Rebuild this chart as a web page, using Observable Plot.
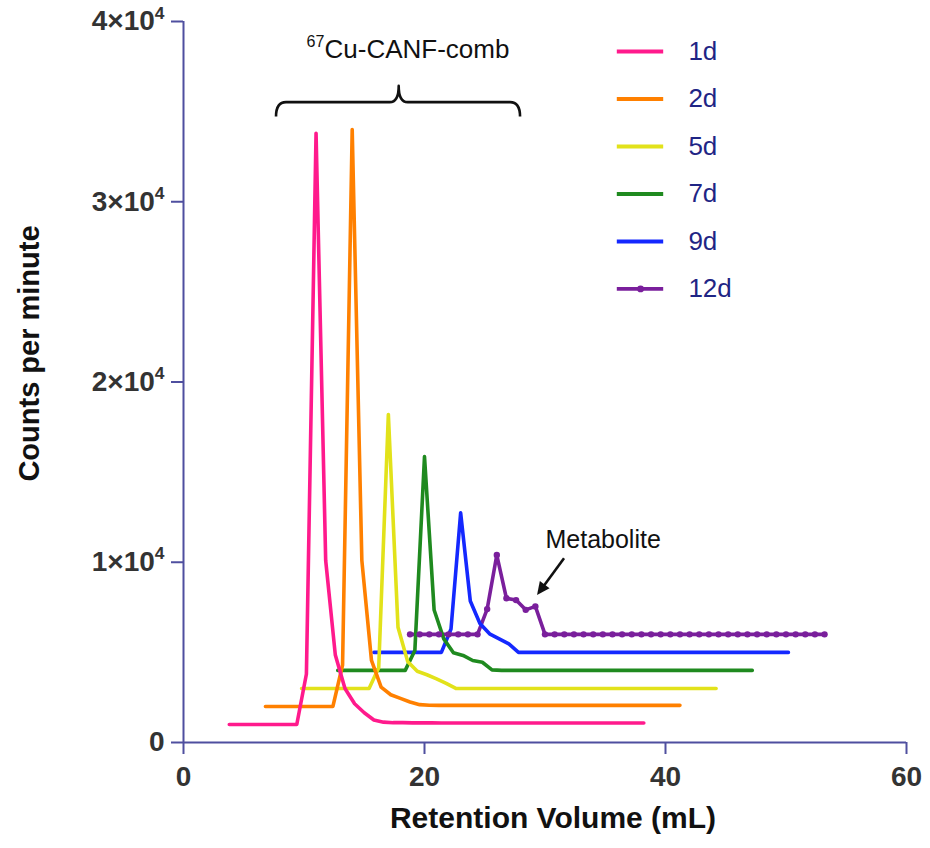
<!DOCTYPE html>
<html><head><meta charset="utf-8">
<script src="https://cdn.jsdelivr.net/npm/d3@7"></script>
<script src="https://cdn.jsdelivr.net/npm/@observablehq/plot@0.6"></script>
<style>body{margin:0;background:#fff}#chart{width:930px;height:848px}</style>
</head><body><div id="chart"></div>
<script>
// ---- data ----
const seriesNames = ["1d", "2d", "5d", "7d", "9d", "12d"];
const seriesColors = ["#ff1a8c", "#ff8000", "#e2e21a", "#1f8a1f", "#1428ff", "#7a1f9c"];
// fraction retention volumes (mL)
const volumes = [0.8,1.6,2.4,3.2,4.0,4.8,5.6,6.4,7.2,8.0,
  8.8,9.6,10.4,11.2,12.0,12.8,13.6,14.4,15.2,16.0,
  16.8,17.6,18.4,19.2,20.0,20.8,21.6,22.4,23.2,24.0,
  24.8,25.6,26.4,27.2,28.0,28.8,29.6,30.4,31.2,32.0,
  32.8,33.6,34.4,35.2];
const counts1d = [0,0,0,0,0,0,0,0,2800,32800,
  9100,3850,2000,1150,650,250,130,100,100,90,
  90,90,80,80,80,80,80,80,80,80,
  80,80,80,80,80,80,80,80,80,80,
  80,80,80,80];
const counts2d = [0,0,0,0,0,0,0,0,2300,32000,
  8100,2550,1070,650,450,250,100,70,60,60,
  60,60,60,60,60,60,60,60,60,60,
  60,60,60,60,60,60,60,60,60,60,
  60,60,60,60];
const counts5d = [0,0,0,0,0,0,0,0,1150,15200,
  3400,1500,950,760,530,280,0,0,0,0,
  0,0,0,0,0,0,0,0,0,0,
  0,0,0,0,0,0,0,0,0,0,
  0,0,0,0];
const counts7d = [0,0,0,0,0,0,0,0,1100,11860,
  3350,1750,980,830,550,450,30,0,0,0,
  0,0,0,0,0,0,0,0,0,0,
  0,0,0,0,0,0,0,0,0,0,
  0,0,0,0];
const counts9d = [0,0,0,0,0,0,0,0,1300,7740,
  2850,1600,1030,750,470,0,0,0,0,0,
  0,0,0,0,0,0,0,0,0,0,
  0,0,0,0,0,0,0,0,0,0,
  0,0,0,0];
const counts12d = [0,0,0,0,0,0,0,0,1400,4400,
  2000,1900,1360,1550,0,0,0,0,0,0,
  0,0,0,0,0,0,0,0,0,0,
  0,0,0,0,0,0,0,0,0,0,
  0,0,0,0];
const allCounts = [counts1d, counts2d, counts5d, counts7d, counts9d, counts12d];
// waterfall display offsets
const xOffsets = [3, 6, 9, 12, 15, 18];
const yOffsets = [1000, 2000, 3000, 4000, 5000, 6000];
const xTicks = [0, 20, 40, 60];
const yTicks = [0, 10000, 20000, 30000, 40000];
const yTickLabels = ["0", "1×10^{4}", "2×10^{4}", "3×10^{4}", "4×10^{4}"];
const xLabel = "Retention Volume (mL)";
const yLabel = "Counts per minute";
const peakLabel = "^{67}Cu-CANF-comb";
const metaboliteLabel = "Metabolite";

// ---- build ----
const axisColor = "#4f4f9f";
const tickTextColor = "#333";
const legendTextColor = "#1f2585";
const FONT = "Liberation Sans, Arial, Helvetica, sans-serif";

function rowsFor(i) {
  return volumes.map((v, k) => ({series: seriesNames[i], x: v + xOffsets[i], y: allCounts[i][k] + yOffsets[i]}));
}
const legendRows = seriesNames.map((s, i) => ({name: s, i, y: 38336 - 2635 * i}));

const marks = [
  Plot.ruleY([0], {stroke: axisColor, strokeWidth: 2}),
  Plot.ruleX([0], {stroke: axisColor, strokeWidth: 2}),
  Plot.axisX({ticks: xTicks, tickSize: 12, tickPadding: 12, stroke: axisColor, strokeWidth: 2,
    fill: tickTextColor, fontSize: 28, fontWeight: "bold", label: null, tickFormat: d => String(d)}),
  Plot.axisY({ticks: yTicks, tickSize: 12, tickPadding: 7, stroke: axisColor, strokeWidth: 2,
    fill: tickTextColor, fontSize: 28, fontWeight: "bold", label: null,
    tickFormat: d => yTickLabels[yTicks.indexOf(d)]}),
  Plot.text([xLabel], {frameAnchor: "bottom", dy: 85, dx: 8, fontSize: 30, fontWeight: "bold", fill: "#111"}),
  Plot.text([yLabel], {x: () => -12.8, y: () => 21580, text: d => d, rotate: -90, fontSize: 29, fontWeight: "bold", fill: "#111"})
];
// series lines: later series first so 1d ends on top
for (let i = seriesNames.length - 1; i >= 0; i--) {
  marks.push(Plot.line(rowsFor(i), {x: "x", y: "y", stroke: seriesColors[i], strokeWidth: 3.6}));
}
marks.push(Plot.dot(rowsFor(5), {x: "x", y: "y", r: 3.2, fill: seriesColors[5], stroke: "none"}));
// legend
legendRows.forEach(d => {
  marks.push(Plot.ruleY([d], {y: "y", x1: () => 36.0, x2: () => 39.85, stroke: seriesColors[d.i], strokeWidth: 3.8}));
  marks.push(Plot.text([d], {x: () => 41.9, y: "y", text: "name", textAnchor: "start", fill: legendTextColor, fontSize: 26}));
});
marks.push(Plot.dot([legendRows[5]], {x: () => 37.93, y: "y", r: 3.4, fill: seriesColors[5], stroke: "none"}));
// annotations
marks.push(Plot.text([peakLabel], {x: () => 18.63, y: () => 38440, text: d => d, fontSize: 26, fill: "#111"}));
marks.push(Plot.text([metaboliteLabel], {x: () => 30.04, y: () => 11260, text: d => d, textAnchor: "start", fontSize: 25, fill: "#111"}));

const plot = Plot.plot({
  width: 930, height: 848,
  marginLeft: 183, marginRight: 24, marginTop: 21, marginBottom: 106,
  x: {domain: [0, 60]},
  y: {domain: [0, 40000]},
  style: {fontFamily: FONT, background: "#fff", overflow: "visible"},
  marks
});
document.getElementById("chart").append(plot);
const svg = plot.tagName.toLowerCase() === "svg" ? plot : plot.querySelector("svg");
const svgNS = "http://www.w3.org/2000/svg";

// superscripts: ^{...}
function applySup(el) {
  const s = el.textContent;
  if (!s.includes("^{")) return;
  const fs = parseFloat(getComputedStyle(el).fontSize) || 26;
  while (el.firstChild) el.removeChild(el.firstChild);
  const re = /\^\{([^}]*)\}/g;
  let last = 0, m, shifted = false;
  const add = (txt, sup) => {
    if (!txt) return;
    const ts = document.createElementNS(svgNS, "tspan");
    ts.textContent = txt;
    if (sup && !shifted) { ts.setAttribute("dy", (-0.42 * fs).toFixed(1)); shifted = true; }
    else if (!sup && shifted) { ts.setAttribute("dy", (0.42 * fs).toFixed(1)); shifted = false; }
    if (sup) ts.setAttribute("font-size", (0.62 * fs).toFixed(1));
    el.appendChild(ts);
  };
  while ((m = re.exec(s))) { add(s.slice(last, m.index), false); add(m[1], true); last = re.lastIndex; }
  add(s.slice(last), false);
}
svg.querySelectorAll("text").forEach(applySup);

const sx = plot.scale("x"), sy = plot.scale("y");
// curly brace over the main peaks
const braceX = [7.72, 17.9, 27.97];       // left, cusp, right (mL)
const braceY = [34700, 35500, 36400];     // ends, bar, cusp (cpm)
const L = sx.apply(braceX[0]), C = sx.apply(braceX[1]), R = sx.apply(braceX[2]);
const yb = sy.apply(braceY[0]), yh = sy.apply(braceY[1]), yt = sy.apply(braceY[2]);
const p = d3.path();
p.moveTo(L, yb); p.quadraticCurveTo(L, yh, L + 10, yh); p.lineTo(C - 9, yh);
p.quadraticCurveTo(C, yh, C, yt); p.quadraticCurveTo(C, yh, C + 9, yh);
p.lineTo(R - 10, yh); p.quadraticCurveTo(R, yh, R, yb);
d3.select(svg).append("path").attr("d", p.toString()).attr("fill", "none")
  .attr("stroke", "#111").attr("stroke-width", 2.6).attr("stroke-linejoin", "round");

// metabolite arrow with filled head
const arrowFrom = [31.62, 10200], arrowTo = [29.38, 8150];
const ax1 = sx.apply(arrowFrom[0]), ay1 = sy.apply(arrowFrom[1]);
const ax2 = sx.apply(arrowTo[0]), ay2 = sy.apply(arrowTo[1]);
const len = Math.hypot(ax2 - ax1, ay2 - ay1), ux = (ax2 - ax1) / len, uy = (ay2 - ay1) / len;
const hl = 13, hw = 6;
const bx = ax2 - ux * hl, by = ay2 - uy * hl;
d3.select(svg).append("line").attr("x1", ax1).attr("y1", ay1).attr("x2", bx + ux * 2).attr("y2", by + uy * 2)
  .attr("stroke", "#111").attr("stroke-width", 2.6);
d3.select(svg).append("path")
  .attr("d", `M${ax2},${ay2}L${bx - uy * hw},${by + ux * hw}L${bx + uy * hw},${by - ux * hw}Z`)
  .attr("fill", "#111");
</script>
</body></html>
